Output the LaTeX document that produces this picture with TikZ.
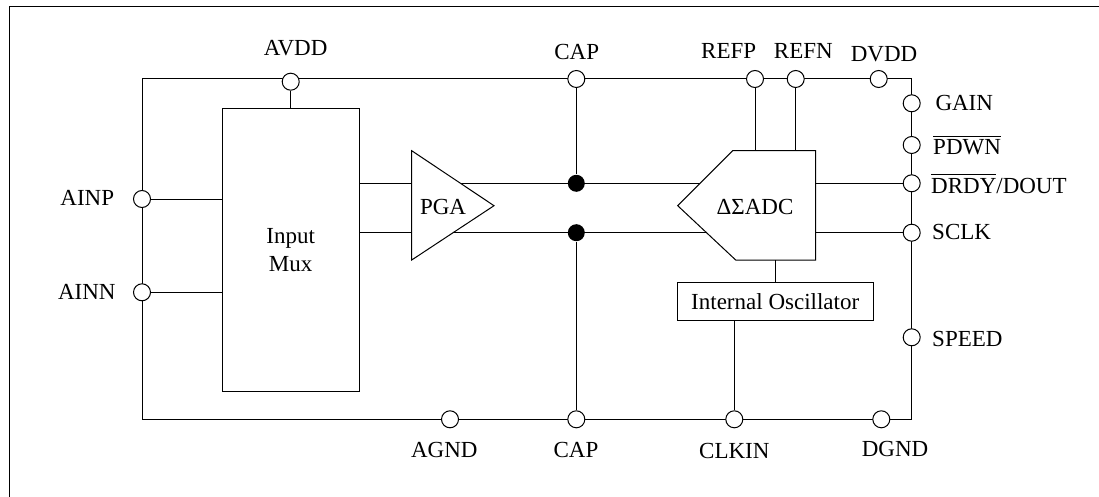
\documentclass[tikz,border=0pt]{standalone}
\usepackage{fontspec}
\setmainfont{Liberation Serif}
\usepackage{amsmath}
\usetikzlibrary{positioning,calc}
\tikzset{
  pad/.style={draw, circle, fill=white, inner sep=0pt, minimum size=17pt},
  dot/.style={fill=black, circle, inner sep=0pt, minimum size=17pt},
  lab/.style={inner sep=0pt, text height=15.2pt, text depth=0pt},
  block/.style={draw, fill=white, inner sep=0pt, align=center}
}
\begin{document}
\begin{tikzpicture}[x=1pt,y=-1pt,line width=1pt,
                    every node/.append style={font=\fontsize{23}{27.6}\selectfont}]
    \useasboundingbox (0,0) rectangle (1099,497);
    \draw (1099,6.5) -- (9.5,6.5) -- (9.5,497);

    \coordinate (tl) at (142,79);
    \coordinate (tr) at (911.7,79);
    \coordinate (br) at (911.7,419.3);
    \coordinate (bl) at (142,419.3);
    \draw (tl) -- (tr) -- (br) -- (bl) -- cycle;

    \node[block, minimum width=137.3pt, minimum height=282.7pt] (mux) at (290.7,250.3) {Input\\Mux};

    % pads on the rail
    \node[pad] (avdd) at (290.7,81.7) {};
    \node[pad] (captop) at (576.3,79) {};
    \node[pad] (refp) at (755,79) {};
    \node[pad] (refn) at (795.7,79) {};
    \node[pad] (dvdd) at (878.7,79) {};
    \node[pad] (gain) at (911.7,103.3) {};
    \node[pad] (pdwn) at (911.7,145) {};
    \node[pad] (drdy) at (911.7,183.3) {};
    \node[pad] (sclk) at (911.7,232.7) {};
    \node[pad] (speed) at (911.7,337.3) {};
    \node[pad] (dgnd) at (881.3,419.3) {};
    \node[pad] (clkin) at (734.3,419.3) {};
    \node[pad] (capbot) at (576.3,419.3) {};
    \node[pad] (agnd) at (450,419.3) {};
    \node[pad] (ainp) at (142,199) {};
    \node[pad] (ainn) at (142,292.3) {};

    \draw (ainp) -- (ainp -| mux.west);
    \draw (ainn) -- (ainn -| mux.west);
    \draw (avdd) -- (avdd |- mux.north);

    % the two signal lines run under both blocks
    \draw (mux.east |- drdy) -- (drdy);
    \draw (mux.east |- sclk) -- (sclk);

    \coordinate (pgaa) at (411.7,150.7);
    \coordinate (pgab) at (494,205.7);
    \coordinate (pgac) at (411.7,260);
    \draw[fill=white] (pgaa) -- (pgab) -- (pgac) -- cycle;
    \node[lab] (pga) at (443,207) {PGA};

    \coordinate (adca) at (732.7,150.7);
    \coordinate (adcb) at (815.7,150.7);
    \coordinate (adcc) at (815.7,260);
    \coordinate (adcd) at (735.7,260);
    \coordinate (adce) at (677.7,205.7);
    \draw (refp) -- (refp |- adca);
    \draw (refn) -- (refn |- adca);
    \draw[fill=white] (adca) -- (adcb) -- (adcc) -- (adcd) -- (adce) -- cycle;
    \node[lab] (adc) at (755,206.7) {ΔΣADC};

    \node[block, minimum width=196.3pt, minimum height=38.4pt] (osc) at (775.2,301.5) {Internal Oscillator};
    \draw (osc.north) -- (osc.north |- adcc);
    \draw (clkin) -- (clkin |- osc.south);

    \node[dot] (dota) at (576.3,183.3) {};
    \node[dot] (dotb) at (576.3,232.7) {};
    \draw (captop) -- (dota);
    \draw (capbot) -- (dotb);

    % labels
    \node[lab] at (295.7,48.3) {AVDD};
    \node[lab] at (576.7,51.7) {CAP};
    \node[lab] at (728.7,50.7) {REFP};
    \node[lab] at (803.3,50.7) {REFN};
    \node[lab] at (884,54) {DVDD};
    \node[lab,anchor=west] at (935,103) {GAIN};
    \node[lab,anchor=west] at (932.7,147) {$\overline{\mbox{PDWN}}$};
    \node[lab,anchor=west] at (930.7,185.7) {$\overline{\mbox{DRDY}}$/DOUT};
    \node[lab,anchor=west] at (931.7,232) {SCLK};
    \node[lab,anchor=west] at (931.7,339) {SPEED};
    \node[lab] at (87.3,198) {AINP};
    \node[lab] at (86.8,291.7) {AINN};
    \node[lab] at (444.3,450) {AGND};
    \node[lab] at (576,450) {CAP};
    \node[lab] at (734.3,450.7) {CLKIN};
    \node[lab] at (895,449) {DGND};
\end{tikzpicture}
\end{document}
